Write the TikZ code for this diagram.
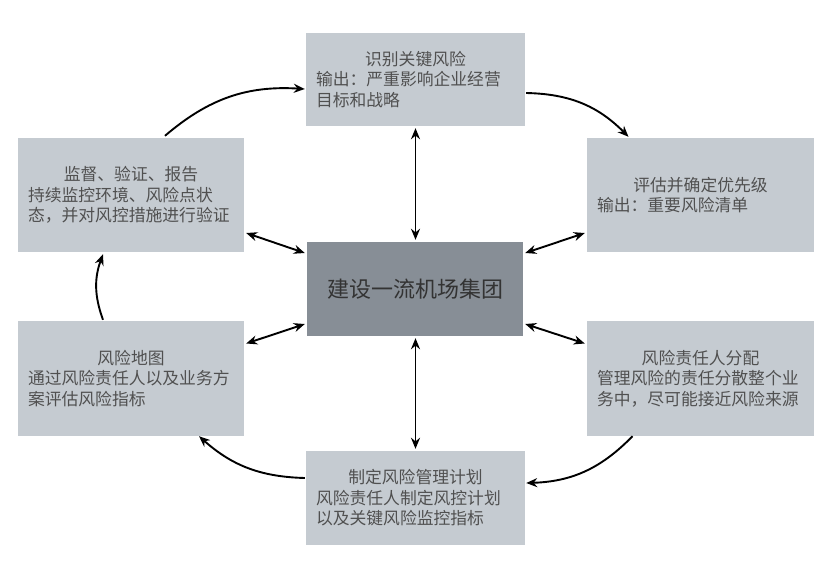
\documentclass[tikz,border=0pt]{standalone}
\usepackage{fontspec}
\setmainfont{Noto Sans CJK SC}
\usetikzlibrary{arrows.meta,calc}
\definecolor{boxlight}{HTML}{C5CBD1}
\definecolor{boxdark}{HTML}{878E96}
\definecolor{txt}{HTML}{505050}
\begin{document}
\begin{tikzpicture}[x=1pt,y=-1pt,
  box/.style={fill=boxlight,draw=none,inner xsep=10pt,inner ysep=0pt,
    font=\fontsize{16.8pt}{20.5pt}\selectfont,text=txt},
  cbox/.style={fill=boxdark,draw=none,inner sep=0pt,
    font=\fontsize{22pt}{26pt}\selectfont,text=black!80,
    minimum width=216pt,minimum height=94pt},
  arr/.style={line width=1.9pt,-{Stealth[length=11pt,width=9pt]}},
  dbl/.style={line width=1.9pt,{Stealth[length=11pt,width=9pt]}-{Stealth[length=11pt,width=9pt]}}]
\useasboundingbox (0,0) rectangle (835,576);

\node[box,text width=199pt,minimum height=93pt] (top) at (415.5,79.5)
  {\centering 识别关键风险\par\raggedright 输出：严重影响企业经营\\目标和战略};
\node[box,text width=206pt,minimum height=114pt] (lt) at (131,195)
  {\centering 监督、验证、报告\par\raggedright 持续监控环境、风险点状\\ 态，并对风控措施进行验证};
\node[box,text width=207pt,minimum height=114pt] (rt) at (700.5,195)
  {\centering 评估并确定优先级\par\raggedright 输出：重要风险清单};
\node[cbox] (c) at (415,289) {建设一流机场集团};
\node[box,text width=206pt,minimum height=115pt] (lb) at (131,378.5)
  {\centering 风险地图\par\raggedright 通过风险责任人以及业务方\\案评估风险指标};
\node[box,text width=207pt,minimum height=115pt] (rb) at (700.5,378.5)
  {\centering 风险责任人分配\par\raggedright 管理风险的责任分散整个业\\务中，尽可能接近风险来源};
\node[box,text width=199pt,minimum height=94pt] (bot) at (415.5,498)
  {\centering 制定风险管理计划\par\raggedright 风险责任人制定风控计划\\以及关键风险监控指标};

% double arrows to centre
\draw[dbl] ($(top.south)+(0,2)$) -- ($(c.north)+(0.5,-2)$);
\draw[dbl] ($(c.south)+(0.5,2)$) -- ($(bot.north)+(0,-2)$);
\draw[dbl] ($(lt.east)+(2,38)$) -- ($(c.west)+(-2,-36)$);
\draw[dbl] ($(lb.east)+(2,-35)$) -- ($(c.west)+(-2,35)$);
\draw[dbl] ($(c.east)+(2,-36)$) -- ($(rt.west)+(-2,38)$);
\draw[dbl] ($(c.east)+(2,35)$) -- ($(rb.west)+(-2,-35)$);

% cycle
\draw[arr] ($(lt.north)+(34,-2)$) to[bend left=22] ($(top.west)+(-1,9.5)$);
\draw[arr] ($(top.east)+(1,13.5)$) to[bend left=22] ($(rt.north)+(-72,-1)$);
\draw[arr] ($(rb.south)+(-68,0)$) to[bend left=22] ($(bot.east)+(1,-15)$);
\draw[arr] ($(bot.west)+(-1,-20)$) to[bend left=20] ($(lb.south)+(68,0)$);
\draw[arr] ($(lb.north)+(-28,-1)$) to[bend left=20] ($(lt.south)+(-28,2)$);
\end{tikzpicture}
\end{document}
